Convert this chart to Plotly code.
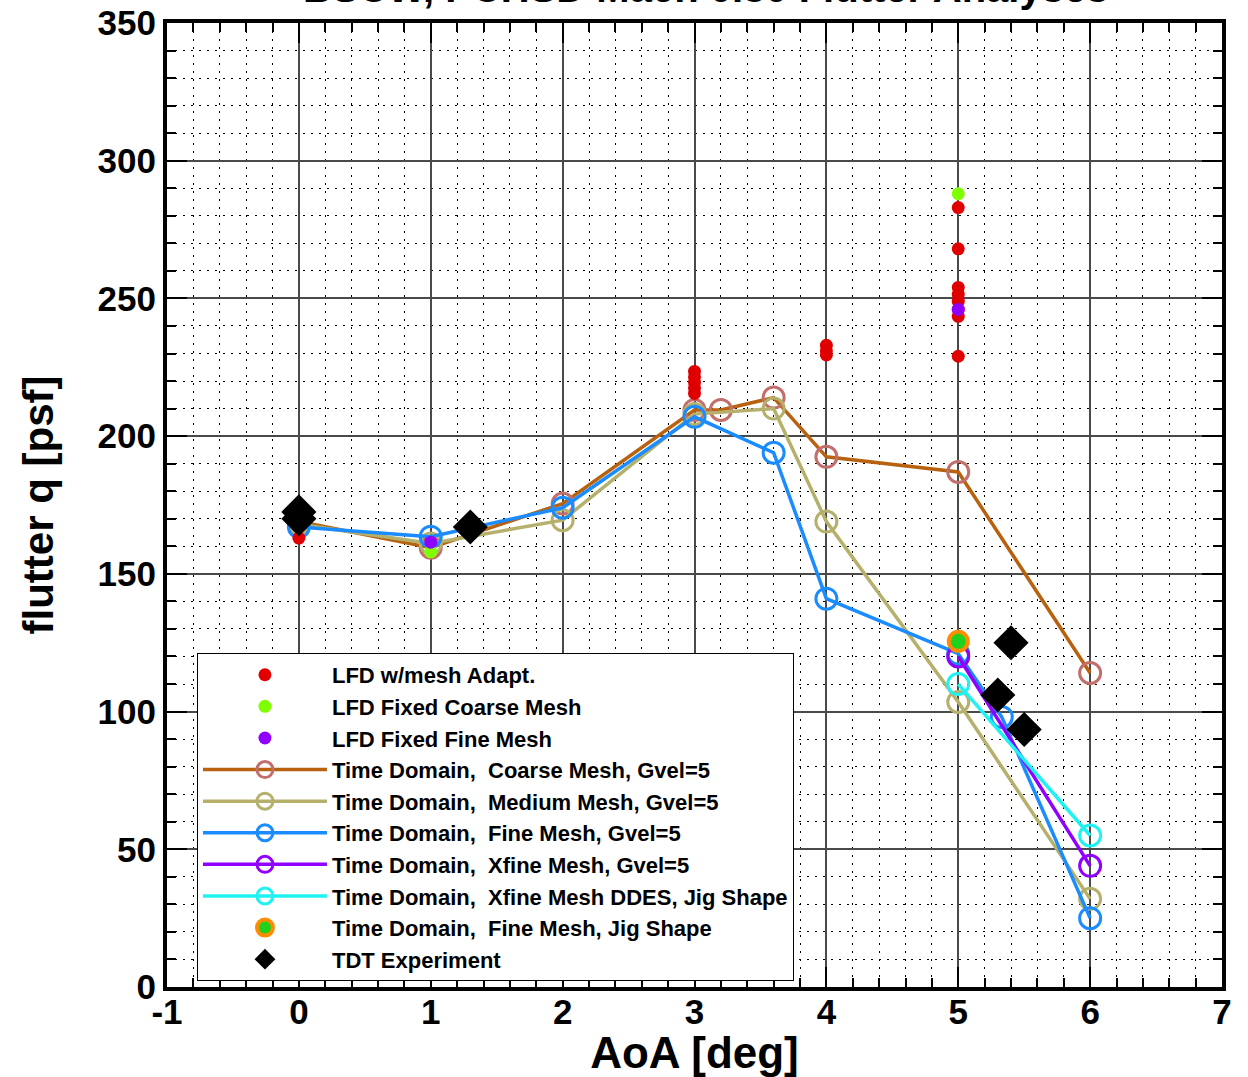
import plotly.graph_objects as go

# ---- data -----------------------------------------------------------------
# Time-domain flutter solutions (AoA [deg], flutter q [psf])
coarse_aoa = [0, 1, 2, 3, 3.2, 3.6, 4, 5, 6]
coarse_q = [169, 159.5, 175.5, 209.5, 209.5, 214, 192.5, 187, 114]

medium_aoa = [0, 1, 2, 3, 3.6, 4, 5, 6]
medium_q = [168, 161, 169.5, 208, 210, 169, 103.5, 32]

fine_aoa = [0, 1, 2, 3, 3.6, 4, 5, 5.33, 6]
fine_q = [167, 163.5, 174, 207, 194, 141, 121, 98, 25]

xfine_aoa = [5, 6]
xfine_q = [120, 44]

ddes_aoa = [5, 6]
ddes_q = [110, 55]

jig_aoa = [5]
jig_q = [125.5]

# Linearized frequency-domain (LFD) results
lfd_adapt_aoa = [0, 3, 3, 3, 3, 3, 4, 4, 4, 5, 5, 5, 5, 5, 5, 5, 5]
lfd_adapt_q = [163, 215.5, 217.5, 219.5, 221.5, 223.5, 229.5, 231, 233,
               283, 268, 254, 251.5, 249, 246, 243.5, 229]

lfd_coarse_aoa = [1, 5]
lfd_coarse_q = [158, 288]

lfd_fine_aoa = [1, 5]
lfd_fine_q = [161.5, 246]

# TDT wind-tunnel experiment
tdt_aoa = [0, 0, 1.3, 5.3, 5.4, 5.5]
tdt_q = [172.5, 170, 167, 106, 125, 93.5]

# x tick positions and labels (plain hyphen for the negative value)
aoa_ticks = [-1, 0, 1, 2, 3, 4, 5, 6, 7]
aoa_tick_labels = ["-1", "0", "1", "2", "3", "4", "5", "6", "7"]

TITLE = "BSCW, PCHSD Mach 0.80 Flutter Analyses"
FONT = "Liberation Sans, Arial, Helvetica, sans-serif"

fig = go.Figure()


def td_line(x, y, name, line_color, marker_color, rank):
    fig.add_trace(go.Scatter(
        x=x, y=y, name=name, mode="lines+markers", legendrank=rank,
        line=dict(color=line_color, width=3.5),
        marker=dict(symbol="circle-open", size=21, color=marker_color,
                    line=dict(width=3, color=marker_color)),
    ))


td_line(coarse_aoa, coarse_q, "Time Domain,\u00a0 Coarse Mesh, Gvel=5",
        "#b8620f", "#c26f6c", 4)
td_line(medium_aoa, medium_q, "Time Domain,\u00a0 Medium Mesh, Gvel=5",
        "#b5b06b", "#b5b06b", 5)
td_line(fine_aoa, fine_q, "Time Domain,\u00a0 Fine Mesh, Gvel=5",
        "#1a8cff", "#1a8cff", 6)
td_line(xfine_aoa, xfine_q, "Time Domain,\u00a0 Xfine Mesh, Gvel=5",
        "#8f00ff", "#8f00ff", 7)
td_line(ddes_aoa, ddes_q, "Time Domain,\u00a0 Xfine Mesh DDES, Jig Shape",
        "#1ff2f2", "#1ff2f2", 8)

fig.add_trace(go.Scatter(
    x=jig_aoa, y=jig_q, name="Time Domain,\u00a0 Fine Mesh, Jig Shape",
    mode="markers", legendrank=9,
    marker=dict(symbol="circle", size=19, color="#1ed21e",
                line=dict(width=4, color="#ff8c00")),
))


def lfd_dots(x, y, name, color, rank):
    fig.add_trace(go.Scatter(
        x=x, y=y, name=name, mode="markers", legendrank=rank,
        marker=dict(symbol="circle", size=13, color=color),
    ))


lfd_dots(lfd_adapt_aoa, lfd_adapt_q, "LFD w/mesh Adapt.", "#e00000", 1)
lfd_dots(lfd_coarse_aoa, lfd_coarse_q, "LFD Fixed Coarse Mesh", "#80ff00", 2)
lfd_dots(lfd_fine_aoa, lfd_fine_q, "LFD Fixed Fine Mesh", "#8f00ff", 3)

fig.add_trace(go.Scatter(
    x=tdt_aoa, y=tdt_q, name="TDT Experiment", mode="markers", legendrank=10,
    marker=dict(symbol="diamond", size=27, color="black"),
))

axis_common = dict(
    showline=True, linewidth=4, linecolor="black", mirror="ticks",
    ticks="inside", ticklen=20, tickwidth=2, tickcolor="black",
    showgrid=True, gridcolor="#4a4a4a", gridwidth=1.5,
    zeroline=False, automargin=False,
    tickfont=dict(family=FONT, size=35, color="black", weight="bold"),
)

fig.update_xaxes(
    **axis_common, range=[-1, 7], tickmode="array",
    tickvals=aoa_ticks, ticktext=aoa_tick_labels, ticklabelstandoff=-9,
    title=dict(text="AoA [deg]", standoff=10,
               font=dict(family=FONT, size=44, color="black", weight="bold")),
    minor=dict(dtick=0.2, tick0=0, showgrid=True, gridcolor="black",
               gridwidth=1.2, griddash="2px,6px", ticks="inside", ticklen=9,
               tickcolor="black", tickwidth=1.5),
)
fig.update_yaxes(
    **axis_common, range=[0, 350], dtick=50, tick0=0,
    title=dict(text="flutter q [psf]", standoff=32,
               font=dict(family=FONT, size=42, color="black", weight="bold")),
    minor=dict(dtick=10, showgrid=True, gridcolor="black", gridwidth=1.2,
               griddash="2px,6px", ticks="inside", ticklen=9,
               tickcolor="black", tickwidth=1.5),
)

fig.add_annotation(
    text=TITLE, xref="paper", yref="paper", x=0.51, y=1.036,
    xanchor="center", yanchor="middle", showarrow=False,
    font=dict(family=FONT, size=40, color="black", weight="bold"),
)

fig.update_layout(
    width=1248, height=1077,
    margin=dict(l=167, r=26, t=23, b=90),
    paper_bgcolor="white", plot_bgcolor="white",
    showlegend=True,
    legend=dict(
        x=0.0284, y=0.3465, xanchor="left", yanchor="top",
        bgcolor="white", bordercolor="black", borderwidth=1,
        font=dict(family=FONT, size=22, color="black", weight="bold"),
        itemwidth=124, tracegroupgap=0, traceorder="normal",
    ),
)

fig.write_html("out.html")
